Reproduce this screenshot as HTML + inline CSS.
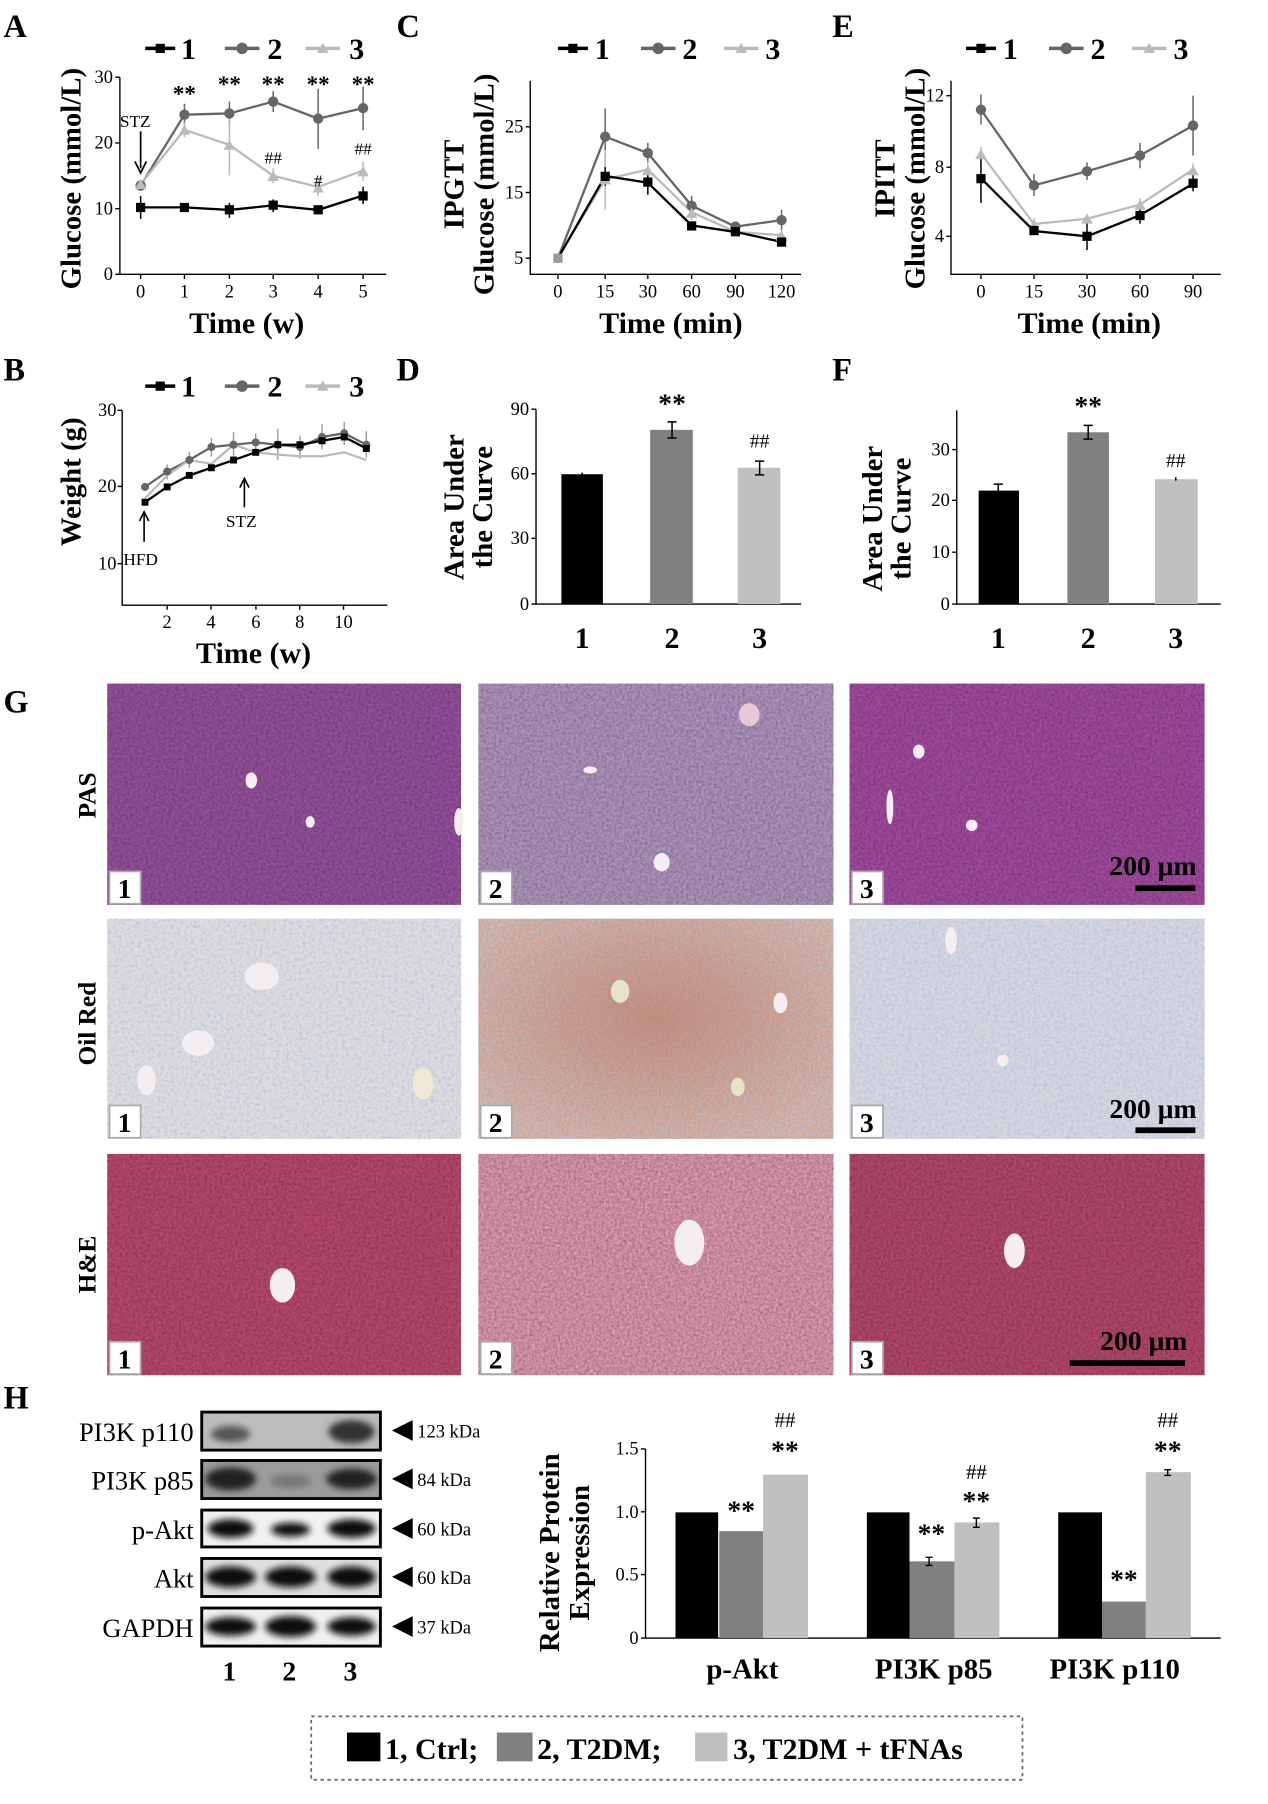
<!DOCTYPE html>
<html><head><meta charset="utf-8"><style>
html,body{margin:0;padding:0;background:#fff;}
svg{display:block;}
text{font-family:"Liberation Serif",serif;}
.t{font-size:16px;fill:#000;}
.b{font-weight:bold;}
.ax{stroke:#000;stroke-width:1.2;fill:none;}
</style></head><body>
<svg width="1268" height="1804" viewBox="0 0 1100 1565" xmlns="http://www.w3.org/2000/svg">
<defs>
<filter id="nz" x="0" y="0" width="100%" height="100%"><feTurbulence type="fractalNoise" baseFrequency="0.45" numOctaves="2" seed="4"/><feColorMatrix type="matrix" values="0 0 0 0 0  0 0 0 0 0  0 0 0 0 0  0 0 0 1.4 -0.45"/></filter>
<filter id="nzw" x="0" y="0" width="100%" height="100%"><feTurbulence type="fractalNoise" baseFrequency="0.5" numOctaves="2" seed="9"/><feColorMatrix type="matrix" values="0 0 0 0 1  0 0 0 0 1  0 0 0 0 1  0 0 0 1.6 -0.6"/></filter>
<filter id="nzb" x="0" y="0" width="100%" height="100%"><feTurbulence type="fractalNoise" baseFrequency="0.35" numOctaves="2" seed="2"/><feColorMatrix type="matrix" values="0 0 0 0 0.35  0 0 0 0 0.55  0 0 0 0 0.8  0 0 0 2.2 -1.0"/></filter>
<radialGradient id="rg" cx="0.5" cy="0.45" r="0.6"><stop offset="0" stop-color="#b4705f" stop-opacity="0.55"/><stop offset="1" stop-color="#b4705f" stop-opacity="0"/></radialGradient>
<filter id="bl"><feGaussianBlur stdDeviation="3"/></filter>
</defs>

<!-- Panel letters -->
<g class="b" font-size="28">
<text x="3" y="32">A</text><text x="344" y="32">C</text><text x="722" y="32">E</text>
<text x="3" y="330">B</text><text x="344" y="330">D</text><text x="722" y="330">F</text>
<text x="3" y="618">G</text><text x="3" y="1222">H</text>
</g>

<!-- ===== Panel A ===== -->
<g>
<line x1="126" y1="42" x2="152" y2="42" stroke="#000" stroke-width="3"/><rect x="135" y="38" width="8" height="8" fill="#000"/><text x="157" y="51" class="b" font-size="26">1</text>
<line x1="195" y1="42" x2="225" y2="42" stroke="#666" stroke-width="3"/><circle cx="210" cy="42" r="5" fill="#666"/><text x="232" y="51" class="b" font-size="26">2</text>
<line x1="265" y1="42" x2="295" y2="42" stroke="#bbb" stroke-width="3"/><path d="M280,37 L285,46 L275,46Z" fill="#bbb"/><text x="303" y="51" class="b" font-size="26">3</text>
<path class="ax" d="M104,67 V238 H335"/>
<path class="ax" d="M100,67H104M100,124H104M100,181H104M100,238H104M122,238V242M160,238V242M199,238V242M237,238V242M276,238V242M315,238V242"/>
<g class="t" text-anchor="end"><text x="98" y="72">30</text><text x="98" y="129">20</text><text x="98" y="186">10</text><text x="98" y="243">0</text></g>
<g class="t" text-anchor="middle"><text x="122" y="258">0</text><text x="160" y="258">1</text><text x="199" y="258">2</text><text x="237" y="258">3</text><text x="276" y="258">4</text><text x="315" y="258">5</text></g>
<text x="214" y="289" text-anchor="middle" class="b" font-size="26">Time (w)</text>
<text transform="translate(70,155) rotate(-90)" text-anchor="middle" class="b" font-size="25">Glucose (mmol/L)</text>
<path stroke="#666" stroke-width="1.3" fill="none" d="M160,90V109M199,88V108M237,79V97M276,77V129M315,75V113"/>
<path stroke="#bbb" stroke-width="1.3" fill="none" d="M160,106V119M199,99V152M237,146V159M276,155V170M315,140V157"/>
<path stroke="#000" stroke-width="1.3" fill="none" d="M122,170V190M199,176V189M237,173V184M315,162V177"/>
<polyline points="122,161 160,99.5 199,98.4 237,88.1 276,102.9 315,93.8" fill="none" stroke="#666" stroke-width="2"/>
<polyline points="122,159.9 160,112.6 199,125.7 237,152.5 276,162.2 315,148" fill="none" stroke="#bbb" stroke-width="2"/>
<polyline points="122,179.9 160,179.9 199,182.1 237,178.2 276,182.1 315,169.6" fill="none" stroke="#000" stroke-width="2"/>
<g fill="#666"><circle cx="122" cy="161" r="4.5"/><circle cx="160" cy="99.5" r="4.5"/><circle cx="199" cy="98.4" r="4.5"/><circle cx="237" cy="88.1" r="4.5"/><circle cx="276" cy="102.9" r="4.5"/><circle cx="315" cy="93.8" r="4.5"/></g>
<g fill="#bbb"><path d="M122,155L127,164H117Z"/><path d="M160,108L165,117H155Z"/><path d="M199,121L204,130H194Z"/><path d="M237,148L242,157H232Z"/><path d="M276,158L281,167H271Z"/><path d="M315,144L320,153H310Z"/></g>
<g fill="#000"><rect x="118" y="176" width="8" height="8"/><rect x="156" y="176" width="8" height="8"/><rect x="195" y="178" width="8" height="8"/><rect x="233" y="174" width="8" height="8"/><rect x="272" y="178" width="8" height="8"/><rect x="311" y="166" width="8" height="8"/></g>
<g class="b" font-size="20" text-anchor="middle"><text x="160" y="88">**</text><text x="199" y="80">**</text><text x="237" y="80">**</text><text x="276" y="80">**</text><text x="315" y="80">**</text></g>
<g font-size="15" text-anchor="middle"><text x="237" y="142">##</text><text x="276" y="162">#</text><text x="315" y="134">##</text></g>
<text x="104" y="110" font-size="15">STZ</text>
<path d="M122,114V146" stroke="#000" stroke-width="1.5"/><path d="M117,140L122,150L127,140" fill="none" stroke="#000" stroke-width="1.5"/>
</g>

<!-- ===== Panel C ===== -->
<g>
<line x1="484" y1="42" x2="510" y2="42" stroke="#000" stroke-width="3"/><rect x="493" y="38" width="8" height="8" fill="#000"/><text x="516" y="51" class="b" font-size="26">1</text>
<line x1="556" y1="42" x2="586" y2="42" stroke="#666" stroke-width="3"/><circle cx="571" cy="42" r="5" fill="#666"/><text x="592" y="51" class="b" font-size="26">2</text>
<line x1="628" y1="42" x2="658" y2="42" stroke="#bbb" stroke-width="3"/><path d="M643,37L648,46H638Z" fill="#bbb"/><text x="664" y="51" class="b" font-size="26">3</text>
<path class="ax" d="M460,70V238H695"/>
<path class="ax" d="M456,110H460M456,167H460M456,224H460M484,238V242M525,238V242M562,238V242M600,238V242M638,238V242M678,238V242"/>
<g class="t" text-anchor="end"><text x="454" y="115">25</text><text x="454" y="172">15</text><text x="454" y="229">5</text></g>
<g class="t" text-anchor="middle"><text x="484" y="258">0</text><text x="525" y="258">15</text><text x="562" y="258">30</text><text x="600" y="258">60</text><text x="638" y="258">90</text><text x="678" y="258">120</text></g>
<text x="582" y="289" text-anchor="middle" class="b" font-size="26">Time (min)</text>
<text transform="translate(402,160) rotate(-90)" text-anchor="middle" class="b" font-size="25">IPGTT</text>
<text transform="translate(428,160) rotate(-90)" text-anchor="middle" class="b" font-size="25">Glucose (mmol/L)</text>
<path stroke="#666" stroke-width="1.3" d="M525,94V145M562,124V141M600,170V187M638,193V200M678,182V200"/>
<path stroke="#bbb" stroke-width="1.3" d="M525,130V182M562,140V154M600,177V191M638,197V205M678,199V209"/>
<path stroke="#000" stroke-width="1.3" d="M525,145V161M562,148V169M600,192V199M678,205V214"/>
<polyline points="484,224 525,118.6 562,132.8 600,178.4 638,196.6 678,191" fill="none" stroke="#666" stroke-width="2"/>
<polyline points="484,224 525,155.6 562,147.1 600,184.1 638,201.2 678,204" fill="none" stroke="#bbb" stroke-width="2"/>
<polyline points="484,224 525,152.7 562,158.5 600,195.5 638,201.2 678,209.8" fill="none" stroke="#000" stroke-width="2"/>
<g fill="#666"><circle cx="484" cy="224" r="4"/><circle cx="525" cy="118.6" r="4.5"/><circle cx="562" cy="132.8" r="4.5"/><circle cx="600" cy="178.4" r="4.5"/><circle cx="638" cy="196.6" r="4.5"/><circle cx="678" cy="191" r="4.5"/></g>
<g fill="#bbb"><path d="M525,151L530,160H520Z"/><path d="M562,143L567,152H557Z"/><path d="M600,180L605,189H595Z"/><path d="M678,200L683,209H673Z"/></g>
<g fill="#000"><rect x="521" y="149" width="8" height="8"/><rect x="558" y="154" width="8" height="8"/><rect x="596" y="192" width="8" height="8"/><rect x="634" y="197" width="8" height="8"/><rect x="674" y="206" width="8" height="8"/></g>
<rect x="480" y="220" width="8" height="8" fill="#999"/>
</g>

<!-- ===== Panel E ===== -->
<g>
<line x1="838" y1="42" x2="864" y2="42" stroke="#000" stroke-width="3"/><rect x="847" y="38" width="8" height="8" fill="#000"/><text x="870" y="51" class="b" font-size="26">1</text>
<line x1="910" y1="42" x2="940" y2="42" stroke="#666" stroke-width="3"/><circle cx="925" cy="42" r="5" fill="#666"/><text x="946" y="51" class="b" font-size="26">2</text>
<line x1="982" y1="42" x2="1012" y2="42" stroke="#bbb" stroke-width="3"/><path d="M997,37L1002,46H992Z" fill="#bbb"/><text x="1018" y="51" class="b" font-size="26">3</text>
<path class="ax" d="M825,70V238H1059"/>
<path class="ax" d="M821,83H825M821,145H825M821,205H825M851,238V242M897,238V242M943,238V242M989,238V242M1035,238V242"/>
<g class="t" text-anchor="end"><text x="819" y="88">12</text><text x="819" y="150">8</text><text x="819" y="210">4</text></g>
<g class="t" text-anchor="middle"><text x="851" y="258">0</text><text x="897" y="258">15</text><text x="943" y="258">30</text><text x="989" y="258">60</text><text x="1035" y="258">90</text></g>
<text x="945" y="289" text-anchor="middle" class="b" font-size="26">Time (min)</text>
<text transform="translate(776,155) rotate(-90)" text-anchor="middle" class="b" font-size="25">IPITT</text>
<text transform="translate(802,155) rotate(-90)" text-anchor="middle" class="b" font-size="25">Glucose (mmol/L)</text>
<path stroke="#666" stroke-width="1.3" d="M851,82V108M897,151V170M943,141V156M989,124V146M1035,83V135"/>
<path stroke="#bbb" stroke-width="1.3" d="M851,127V140M897,189V199M989,172V183M1035,142V152"/>
<path stroke="#000" stroke-width="1.3" d="M851,134V176M897,196V204M943,193V217M989,180V194M1035,152V166"/>
<polyline points="851,95.2 897,160.8 943,148.6 989,134.9 1035,108.9" fill="none" stroke="#666" stroke-width="2"/>
<polyline points="851,133.3 897,194.3 943,189.75 989,177.5 1035,147" fill="none" stroke="#bbb" stroke-width="2"/>
<polyline points="851,154.7 897,200.4 943,205 989,186.7 1035,159.3" fill="none" stroke="#000" stroke-width="2"/>
<g fill="#666"><circle cx="851" cy="95.2" r="4.5"/><circle cx="897" cy="160.8" r="4.5"/><circle cx="943" cy="148.6" r="4.5"/><circle cx="989" cy="134.9" r="4.5"/><circle cx="1035" cy="108.9" r="4.5"/></g>
<g fill="#bbb"><path d="M851,129L856,138H846Z"/><path d="M897,190L902,199H892Z"/><path d="M943,185L948,194H938Z"/><path d="M989,173L994,182H984Z"/><path d="M1035,143L1040,152H1030Z"/></g>
<g fill="#000"><rect x="847" y="151" width="8" height="8"/><rect x="893" y="196" width="8" height="8"/><rect x="939" y="201" width="8" height="8"/><rect x="985" y="183" width="8" height="8"/><rect x="1031" y="155" width="8" height="8"/></g>
</g>

<!-- ===== Panel B ===== -->
<g>
<line x1="126" y1="335" x2="152" y2="335" stroke="#000" stroke-width="3"/><rect x="135" y="331" width="8" height="8" fill="#000"/><text x="157" y="344" class="b" font-size="26">1</text>
<line x1="195" y1="335" x2="225" y2="335" stroke="#666" stroke-width="3"/><circle cx="210" cy="335" r="5" fill="#666"/><text x="232" y="344" class="b" font-size="26">2</text>
<line x1="265" y1="335" x2="295" y2="335" stroke="#bbb" stroke-width="3"/><path d="M280,330L285,339H275Z" fill="#bbb"/><text x="303" y="344" class="b" font-size="26">3</text>
<path class="ax" d="M106,356V525H336"/>
<path class="ax" d="M102,356H106M102,422H106M102,489H106M145,525V529M183,525V529M222,525V529M260,525V529M298,525V529"/>
<g class="t" text-anchor="end"><text x="101" y="361">30</text><text x="101" y="427">20</text><text x="101" y="494">10</text></g>
<g class="t" text-anchor="middle"><text x="145" y="545">2</text><text x="183" y="545">4</text><text x="222" y="545">6</text><text x="260" y="545">8</text><text x="298" y="545">10</text></g>
<text x="220" y="575" text-anchor="middle" class="b" font-size="26">Time (w)</text>
<text transform="translate(70,418) rotate(-90)" text-anchor="middle" class="b" font-size="25">Weight (g)</text>
<path stroke="#999" stroke-width="1.2" d="M145,403V416M164.2,392V406M183.4,380V396M202.6,375V397M221.8,376V392M241,372V399M260.2,378V398M279.4,368V390M298.6,366V386M317.8,374V397"/>
<polyline points="125.8,422.4 145,409.1 164.2,399.1 183.4,387.8 202.6,385.8 221.8,383.8 241,385.8 260.2,387.8 279.4,379.1 298.6,375.8 317.8,385.8" fill="none" stroke="#666" stroke-width="2"/>
<polyline points="125.8,432.4 145,412.4 164.2,399.1 183.4,402.4 202.6,385.8 221.8,392.4 241,394.4 260.2,395.8 279.4,395.8 298.6,392.4 317.8,399.1" fill="none" stroke="#bbb" stroke-width="2"/>
<polyline points="125.8,435.7 145,422.4 164.2,412.4 183.4,405.8 202.6,399.1 221.8,392.4 241,385.8 260.2,385.8 279.4,382.4 298.6,379.1 317.8,389.1" fill="none" stroke="#000" stroke-width="2"/>
<g fill="#666"><circle cx="125.8" cy="422.4" r="3.5"/><circle cx="145" cy="409.1" r="3.5"/><circle cx="164.2" cy="399.1" r="3.5"/><circle cx="183.4" cy="387.8" r="3.5"/><circle cx="202.6" cy="385.8" r="3.5"/><circle cx="221.8" cy="383.8" r="3.5"/><circle cx="241" cy="385.8" r="3.5"/><circle cx="260.2" cy="387.8" r="3.5"/><circle cx="279.4" cy="379.1" r="3.5"/><circle cx="298.6" cy="375.8" r="3.5"/><circle cx="317.8" cy="385.8" r="3.5"/></g>
<g fill="#000"><rect x="122.8" y="432.7" width="6" height="6"/><rect x="142" y="419.4" width="6" height="6"/><rect x="161.2" y="409.4" width="6" height="6"/><rect x="180.4" y="402.8" width="6" height="6"/><rect x="199.6" y="396.1" width="6" height="6"/><rect x="218.8" y="389.4" width="6" height="6"/><rect x="238" y="382.8" width="6" height="6"/><rect x="257.2" y="382.8" width="6" height="6"/><rect x="276.4" y="379.4" width="6" height="6"/><rect x="295.6" y="376.1" width="6" height="6"/><rect x="314.8" y="386.1" width="6" height="6"/></g>
<text x="107" y="490" font-size="15">HFD</text>
<path d="M125,470V446" stroke="#000" stroke-width="1.4"/><path d="M121,452L125,444L129,452" fill="none" stroke="#000" stroke-width="1.4"/>
<text x="196" y="457" font-size="15">STZ</text>
<path d="M212,440V417" stroke="#000" stroke-width="1.4"/><path d="M208,423L212,415L216,423" fill="none" stroke="#000" stroke-width="1.4"/>
</g>

<!-- ===== Panel D ===== -->
<g>
<path class="ax" d="M465,355V524H695"/>
<path class="ax" d="M461,355H465M461,411H465M461,467H465M461,524H465"/>
<g class="t" text-anchor="end"><text x="459" y="360">90</text><text x="459" y="416">60</text><text x="459" y="472">30</text><text x="459" y="529">0</text></g>
<rect x="487" y="411.4" width="36" height="112.6" fill="#000"/>
<rect x="564" y="372.9" width="37" height="151.1" fill="#808080"/>
<rect x="640" y="405.8" width="37" height="118.2" fill="#c0c0c0"/>
<path stroke="#000" stroke-width="1.3" d="M505,410V412M583,366V380M579,366H587M579,380H587M659,400V412M655,400H663M655,412H663"/>
<g class="b" font-size="26" text-anchor="middle"><text x="505" y="562">1</text><text x="583" y="562">2</text><text x="659" y="562">3</text></g>
<text x="583" y="358" text-anchor="middle" font-size="24" class="b">**</text>
<text x="659" y="388" text-anchor="middle" font-size="17">##</text>
<text transform="translate(402,440) rotate(-90)" text-anchor="middle" class="b" font-size="25">Area Under</text>
<text transform="translate(427,440) rotate(-90)" text-anchor="middle" class="b" font-size="25">the Curve</text>
</g>

<!-- ===== Panel F ===== -->
<g>
<path class="ax" d="M830,356V524H1059"/>
<path class="ax" d="M826,390H830M826,434H830M826,479H830M826,524H830"/>
<g class="t" text-anchor="end"><text x="824" y="395">30</text><text x="824" y="439">20</text><text x="824" y="484">10</text><text x="824" y="529">0</text></g>
<rect x="849" y="425.6" width="35" height="98.4" fill="#000"/>
<rect x="926" y="375" width="36" height="149" fill="#808080"/>
<rect x="1002" y="415.7" width="37" height="108.3" fill="#c0c0c0"/>
<path stroke="#000" stroke-width="1.3" d="M866,420V426M862,420H870M944,369V381M940,369H948M940,381H948M1020,414V417"/>
<g class="b" font-size="26" text-anchor="middle"><text x="866" y="562">1</text><text x="944" y="562">2</text><text x="1020" y="562">3</text></g>
<text x="944" y="360" text-anchor="middle" font-size="24" class="b">**</text>
<text x="1020" y="405" text-anchor="middle" font-size="17">##</text>
<text transform="translate(765,450) rotate(-90)" text-anchor="middle" class="b" font-size="25">Area Under</text>
<text transform="translate(790,450) rotate(-90)" text-anchor="middle" class="b" font-size="25">the Curve</text>
</g>

<!-- ===== Panel G ===== -->
<g class="b" font-size="22" text-anchor="middle">
<text transform="translate(83,690) rotate(-90)">PAS</text>
<text transform="translate(83,888) rotate(-90)">Oil Red</text>
<text transform="translate(83,1097) rotate(-90)">H&amp;E</text>
</g>
<rect x="93" y="593" width="307" height="192" fill="#94509c"/>
<rect x="415" y="593" width="308" height="192" fill="#ad93bb"/>
<rect x="737" y="593" width="308" height="192" fill="#a24a9f"/>
<rect x="93" y="797" width="307" height="191" fill="#dcd6d8"/>
<rect x="415" y="797" width="308" height="191" fill="#cfa699"/>
<rect x="737" y="797" width="308" height="191" fill="#d2d0da"/>
<rect x="93" y="1001" width="307" height="192" fill="#b84870"/>
<rect x="415" y="1001" width="308" height="192" fill="#d48aa0"/>
<rect x="737" y="1001" width="308" height="192" fill="#b2476e"/>
<!-- textures (per-rect filters) -->
<g opacity="0.35">
<rect x="93" y="593" width="307" height="192" filter="url(#nz)"/><rect x="415" y="593" width="308" height="192" filter="url(#nz)"/><rect x="737" y="593" width="308" height="192" filter="url(#nz)"/>
<rect x="93" y="1001" width="307" height="192" filter="url(#nz)"/><rect x="415" y="1001" width="308" height="192" filter="url(#nz)"/><rect x="737" y="1001" width="308" height="192" filter="url(#nz)"/>
</g>
<g opacity="0.4">
<rect x="93" y="797" width="307" height="191" filter="url(#nzw)"/><rect x="415" y="797" width="308" height="191" filter="url(#nzw)"/><rect x="737" y="797" width="308" height="191" filter="url(#nzw)"/>
<rect x="415" y="1001" width="308" height="192" filter="url(#nzw)"/>
</g>
<g opacity="0.8">
<rect x="93" y="797" width="307" height="191" filter="url(#nzb)"/><rect x="415" y="797" width="308" height="191" filter="url(#nzb)"/><rect x="737" y="797" width="308" height="191" filter="url(#nzb)"/>
</g>
<rect x="415" y="797" width="308" height="191" fill="url(#rg)"/>
<!-- vessels -->
<g fill="#f4eef2">
<ellipse cx="218" cy="677" rx="5" ry="7"/><ellipse cx="269" cy="713" rx="4" ry="5"/><ellipse cx="398" cy="713" rx="4" ry="12"/>
<ellipse cx="650" cy="620" rx="9" ry="10" fill="#e8c8d8"/><ellipse cx="574" cy="748" rx="7" ry="8"/><ellipse cx="512" cy="668" rx="6" ry="3"/>
<ellipse cx="797" cy="652" rx="5" ry="6"/><ellipse cx="843" cy="716" rx="5" ry="5"/><ellipse cx="772" cy="700" rx="3" ry="15"/>
<ellipse cx="227" cy="847" rx="15" ry="12"/><ellipse cx="172" cy="905" rx="14" ry="11"/><ellipse cx="127" cy="937" rx="8" ry="13"/><ellipse cx="367" cy="940" rx="9" ry="14" fill="#ede8d8"/>
<ellipse cx="538" cy="860" rx="8" ry="10" fill="#e8e2c8"/><ellipse cx="677" cy="870" rx="6" ry="9"/><ellipse cx="640" cy="943" rx="6" ry="8" fill="#e8e2c8"/>
<ellipse cx="825" cy="816" rx="5" ry="12"/><ellipse cx="870" cy="920" rx="5" ry="5"/>
<ellipse cx="245" cy="1115" rx="11" ry="15"/><ellipse cx="598" cy="1078" rx="13" ry="20"/><ellipse cx="880" cy="1085" rx="9" ry="15"/>
</g>
<g fill="#fff" stroke="#aaa" stroke-width="1.5">
<rect x="95" y="756" width="27" height="28"/><rect x="417" y="756" width="27" height="28"/><rect x="739" y="756" width="27" height="28"/>
<rect x="95" y="959" width="27" height="28"/><rect x="417" y="959" width="27" height="28"/><rect x="739" y="959" width="27" height="28"/>
<rect x="95" y="1164" width="27" height="28"/><rect x="417" y="1164" width="27" height="28"/><rect x="739" y="1164" width="27" height="28"/>
</g>
<g class="b" font-size="24" text-anchor="middle">
<text x="108" y="779">1</text><text x="430" y="779">2</text><text x="752" y="779">3</text>
<text x="108" y="982">1</text><text x="430" y="982">2</text><text x="752" y="982">3</text>
<text x="108" y="1187">1</text><text x="430" y="1187">2</text><text x="752" y="1187">3</text>
</g>
<g class="b" font-size="24" text-anchor="end">
<text x="1038" y="759">200 μm</text><text x="1038" y="970">200 μm</text><text x="1030" y="1171">200 μm</text>
</g>
<rect x="985" y="768" width="52" height="5" fill="#000"/>
<rect x="985" y="978" width="52" height="5" fill="#000"/>
<rect x="928" y="1180" width="100" height="5" fill="#000"/>

<!-- ===== Panel H blots ===== -->
<g font-size="23" text-anchor="end">
<text x="168" y="1250">PI3K p110</text><text x="168" y="1292">PI3K p85</text><text x="168" y="1335">p-Akt</text><text x="168" y="1377">Akt</text><text x="168" y="1420">GAPDH</text>
</g>
<g stroke="#000" stroke-width="2.5">
<rect x="175" y="1225" width="155" height="33" fill="#bdbdbd"/>
<rect x="175" y="1267" width="155" height="33" fill="#9c9c9c"/>
<rect x="175" y="1310" width="155" height="32" fill="#f2f2f2"/>
<rect x="175" y="1352" width="155" height="33" fill="#e0e0e0"/>
<rect x="175" y="1395" width="155" height="33" fill="#f0f0f0"/>
</g>
<g filter="url(#bl)" fill="#111">
<ellipse cx="200" cy="1244" rx="17" ry="7" fill="#555"/><ellipse cx="305" cy="1242" rx="20" ry="10" fill="#333"/>
<ellipse cx="200" cy="1283" rx="22" ry="10" fill="#222"/><ellipse cx="252" cy="1285" rx="18" ry="6" fill="#777"/><ellipse cx="305" cy="1283" rx="22" ry="9" fill="#222"/>
<ellipse cx="200" cy="1326" rx="20" ry="8"/><ellipse cx="252" cy="1327" rx="17" ry="6"/><ellipse cx="305" cy="1326" rx="21" ry="8"/>
<ellipse cx="200" cy="1368" rx="22" ry="9"/><ellipse cx="252" cy="1368" rx="22" ry="9"/><ellipse cx="305" cy="1368" rx="21" ry="9"/>
<ellipse cx="200" cy="1411" rx="22" ry="8"/><ellipse cx="252" cy="1411" rx="22" ry="9"/><ellipse cx="305" cy="1411" rx="21" ry="8"/>
</g>
<g fill="#000">
<path d="M340,1241L358,1232V1250Z"/><path d="M340,1283L358,1274V1292Z"/><path d="M340,1326L358,1317V1335Z"/><path d="M340,1368L358,1359V1377Z"/><path d="M340,1411L358,1402V1420Z"/>
</g>
<g font-size="16">
<text x="362" y="1247">123 kDa</text><text x="362" y="1289">84 kDa</text><text x="362" y="1332">60 kDa</text><text x="362" y="1374">60 kDa</text><text x="362" y="1417">37 kDa</text>
</g>
<g class="b" font-size="24" text-anchor="middle"><text x="199" y="1458">1</text><text x="251" y="1458">2</text><text x="304" y="1458">3</text></g>

<!-- ===== Panel H bar chart ===== -->
<path class="ax" d="M560,1257V1421H1059"/>
<path class="ax" d="M556,1257H560M556,1311.5H560M556,1366H560M556,1421H560"/>
<g class="t" text-anchor="end"><text x="554" y="1262">1.5</text><text x="554" y="1317">1.0</text><text x="554" y="1371">0.5</text><text x="554" y="1426">0</text></g>
<rect x="586" y="1312" width="37" height="109" fill="#000"/><rect x="624" y="1328.3" width="38" height="92.7" fill="#808080"/><rect x="662" y="1279.3" width="39" height="141.7" fill="#c0c0c0"/>
<rect x="752" y="1312" width="37" height="109" fill="#000"/><rect x="789" y="1354.5" width="39" height="66.5" fill="#808080"/><rect x="828" y="1320.7" width="39" height="100.3" fill="#c0c0c0"/>
<rect x="918" y="1312" width="38" height="109" fill="#000"/><rect x="956" y="1389.4" width="38" height="31.6" fill="#808080"/><rect x="994" y="1277.1" width="39" height="143.9" fill="#c0c0c0"/>
<path stroke="#000" stroke-width="1.2" d="M806,1351V1358M803,1351H809M803,1358H809M847,1317V1325M844,1317H850M844,1325H850M1013,1275V1280M1010,1275H1016M1010,1280H1016"/>
<g class="b" font-size="24" text-anchor="middle">
<text x="643" y="1318">**</text><text x="681" y="1266">**</text>
<text x="808" y="1338">**</text><text x="847" y="1310">**</text>
<text x="975" y="1378">**</text><text x="1013" y="1266">**</text>
</g>
<g font-size="18" text-anchor="middle"><text x="681" y="1238">##</text><text x="847" y="1283">##</text><text x="1013" y="1238">##</text></g>
<g class="b" font-size="25" text-anchor="middle"><text x="644" y="1456">p-Akt</text><text x="810" y="1456">PI3K p85</text><text x="967" y="1456">PI3K p110</text></g>
<text transform="translate(485,1347) rotate(-90)" text-anchor="middle" class="b" font-size="25">Relative Protein</text>
<text transform="translate(511,1347) rotate(-90)" text-anchor="middle" class="b" font-size="25">Expression</text>

<!-- legend -->
<rect x="270" y="1489" width="617" height="55" fill="none" stroke="#666" stroke-width="1.5" stroke-dasharray="3,3"/>
<rect x="301" y="1503" width="29" height="25" fill="#000"/>
<text x="334" y="1526" class="b" font-size="26">1, Ctrl;</text>
<rect x="431" y="1503" width="31" height="25" fill="#808080"/>
<text x="466" y="1526" class="b" font-size="26">2, T2DM;</text>
<rect x="603" y="1503" width="28" height="25" fill="#c0c0c0"/>
<text x="636" y="1526" class="b" font-size="26">3, T2DM + tFNAs</text>
</svg>
</body></html>
